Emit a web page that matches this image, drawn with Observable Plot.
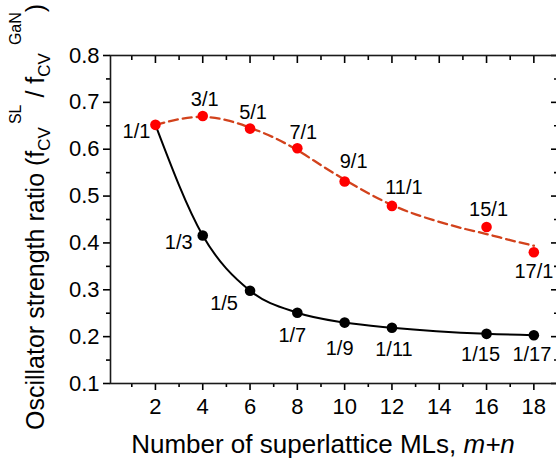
<!DOCTYPE html>
<html>
<head>
<meta charset="utf-8">
<script src="https://cdn.jsdelivr.net/npm/d3@7"></script>
<script src="https://cdn.jsdelivr.net/npm/@observablehq/plot@0.6"></script>
<style>
  html, body { margin: 0; padding: 0; background: #fff; }
  #chart svg { display: block; }
</style>
</head>
<body>
<div id="chart"></div>
<script>
// m/1 superlattices (red): total monolayers m+n and oscillator strength ratio
const redMLs = [2, 4, 6, 8, 10, 12, 16, 18];
const redRatio = [0.652, 0.671, 0.644, 0.602, 0.531, 0.479, 0.434, 0.380];
const redNames = ["1/1", "3/1", "5/1", "7/1", "9/1", "11/1", "15/1", "17/1"];

// 1/n superlattices (black)
const blackMLs = [4, 6, 8, 10, 12, 16, 18];
const blackRatio = [0.416, 0.298, 0.251, 0.230, 0.219, 0.206, 0.203];
const blackNames = ["1/3", "1/5", "1/7", "1/9", "1/11", "1/15", "1/17"];

// dashed guide curve through the m/1 series
const redFitMLs = [2, 3, 4, 5, 6, 7, 8, 9, 10, 11, 12, 13, 14, 15, 16, 17, 18];
const redFitRatio = [0.652, 0.664, 0.669, 0.662, 0.646, 0.625, 0.598, 0.566, 0.535,
                     0.506, 0.481, 0.461, 0.445, 0.431, 0.419, 0.406, 0.394];

// axis ticks
const xMajor = [2, 4, 6, 8, 10, 12, 14, 16, 18];
const xMinor = [1, 3, 5, 7, 9, 11, 13, 15, 17];
const yMajor = [0.1, 0.2, 0.3, 0.4, 0.5, 0.6, 0.7, 0.8];
const yMinor = [0.15, 0.25, 0.35, 0.45, 0.55, 0.65, 0.75];

// label placement (pixel nudges from each point)
const labelNudge = {
  "1/1": [-19, 7], "3/1": [2, -16], "5/1": [3, -16], "7/1": [6, -16],
  "9/1": [9, -20], "11/1": [12, -18], "15/1": [2, -17], "17/1": [0, 19],
  "1/3": [-24, 7], "1/5": [-26, 13], "1/7": [-5, 23], "1/9": [-5, 26],
  "1/11": [2, 22], "1/15": [-6, 21], "1/17": [-2, 19]
};

const red = redMLs.map((x, i) => ({x, y: redRatio[i], name: redNames[i]}));
const black = blackMLs.map((x, i) => ({x, y: blackRatio[i], name: blackNames[i]}));
const redFit = redFitMLs.map((x, i) => ({x, y: redFitRatio[i]}));
// the 1/n curve starts from the shared 1/1 structure
const blackCurve = [red[0], ...black];

const dashColor = "#d2421c";
const axisColor = "#1a1a1a";

const labels = [...red, ...black].map(d => {
  const [dx, dy] = labelNudge[d.name];
  return Plot.text([d], {x: "x", y: "y", text: "name", dx, dy, fontSize: 20, fill: "#000"});
});

const chart = Plot.plot({
  width: 556,
  height: 460,
  marginLeft: 110,
  marginRight: -1,
  marginTop: 55,
  marginBottom: 77,
  style: {fontFamily: "Arial, 'Liberation Sans', sans-serif", fontSize: "22px", color: "#000", background: "#fff"},
  x: {domain: [0.1, 19], label: null},
  y: {domain: [0.1, 0.8], label: null},
  marks: [
    // bottom axis: outward ticks with labels
    Plot.axisX({anchor: "bottom", ticks: xMajor, tickSize: 7, tickPadding: 8, fontSize: 22, strokeWidth: 1.6, label: null, tickFormat: d => String(d)}),
    Plot.axisX({anchor: "bottom", ticks: xMinor, tickSize: 4, fill: "none", strokeWidth: 1.6, label: null}),
    // top axis: inward ticks
    Plot.axisX({anchor: "top", ticks: xMajor, tickSize: -7, fill: "none", strokeWidth: 1.6, label: null}),
    Plot.axisX({anchor: "top", ticks: xMinor, tickSize: -4, fill: "none", strokeWidth: 1.6, label: null}),
    // left axis: outward ticks with labels
    Plot.axisY({anchor: "left", ticks: yMajor, tickSize: 7, tickPadding: 4, fontSize: 22, strokeWidth: 1.6, label: null, tickFormat: d3.format(".1f")}),
    Plot.axisY({anchor: "left", ticks: yMinor, tickSize: 4, fill: "none", strokeWidth: 1.6, label: null}),
    // right axis: inward ticks
    Plot.axisY({anchor: "right", ticks: yMajor, tickSize: -7, fill: "none", strokeWidth: 1.6, label: null}),
    Plot.axisY({anchor: "right", ticks: yMinor, tickSize: -4, fill: "none", strokeWidth: 1.6, label: null}),
    Plot.frame({stroke: axisColor, strokeWidth: 1.6}),
    Plot.line(blackCurve, {x: "x", y: "y", curve: "monotone-x", stroke: "#000", strokeWidth: 2}),
    Plot.line(redFit, {x: "x", y: "y", curve: "natural", stroke: dashColor, strokeWidth: 2.3, strokeDasharray: "9,5"}),
    Plot.dot(black, {x: "x", y: "y", r: 5.3, fill: "#000", stroke: "none"}),
    Plot.dot(red, {x: "x", y: "y", r: 5.3, fill: "#ff0000", stroke: "none"}),
    ...labels
  ]
});

const svg = d3.select(chart);
const font = "Arial, 'Liberation Sans', sans-serif";

// x-axis title with italic m+n
const xt = svg.append("text")
  .attr("x", 323).attr("y", 453)
  .attr("text-anchor", "middle")
  .attr("font-family", font).attr("font-size", 26).attr("fill", "#000");
xt.append("tspan").text("Number of superlattice MLs, ");
xt.append("tspan").attr("font-style", "italic").text("m+n");

// y-axis title with sub/superscripts
const yt = svg.append("text")
  .attr("transform", "translate(44,430) rotate(-90)")
  .attr("text-anchor", "start")
  .attr("font-family", font).attr("font-size", 25).attr("fill", "#000");
yt.append("tspan").text("Oscillator strength ratio (f");
yt.append("tspan").attr("font-size", 17).attr("dy", 6).text("CV");
yt.append("tspan").attr("font-size", 16).attr("dx", 3).attr("dy", -29).text("SL");
yt.append("tspan").attr("dy", 23).text(" / f");
yt.append("tspan").attr("font-size", 17).attr("dy", 6).text("CV");
yt.append("tspan").attr("font-size", 16).attr("dx", 8).attr("dy", -29).text("GaN");
yt.append("tspan").attr("dy", 23).text(")");

document.getElementById("chart").append(chart);
</script>
</body>
</html>
